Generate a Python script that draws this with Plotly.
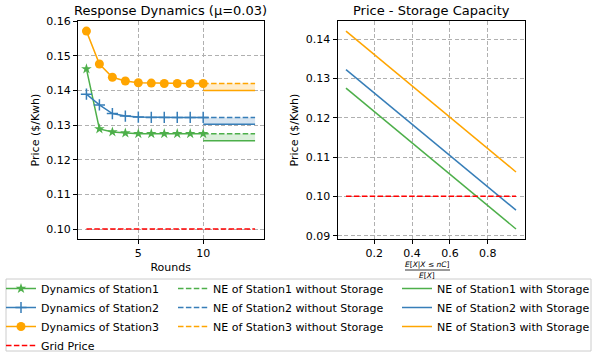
import plotly.graph_objects as go

# ---------------- data ----------------
rounds = [1, 2, 3, 4, 5, 6, 7, 8, 9, 10]
dyn_station1 = [0.1462, 0.1289, 0.1280, 0.1277, 0.1275, 0.1275, 0.1275, 0.1275, 0.1275, 0.1275]
dyn_station2 = [0.1389, 0.1358, 0.1333, 0.1326, 0.1323, 0.1322, 0.1322, 0.1322, 0.1322, 0.1322]
dyn_station3 = [0.1571, 0.1476, 0.1438, 0.1427, 0.1422, 0.1421, 0.1420, 0.1420, 0.1420, 0.1420]

ne_rounds = [10, 14]
ne_without = {"Station1": 0.1275, "Station2": 0.1322, "Station3": 0.1420}
ne_with = {"Station1": 0.1255, "Station2": 0.1302, "Station3": 0.1400}

grid_rounds = [1, 14]
grid_price = 0.10

capacity_ratio = [0.05, 0.95]
price_cap_station1 = [0.1275, 0.0917]
price_cap_station2 = [0.1322, 0.0965]
price_cap_station3 = [0.1420, 0.1062]

stations = ["Station1", "Station2", "Station3"]
colors = {"Station1": "#4daf4a", "Station2": "#377eb8", "Station3": "#ffa500"}
fills = {"Station1": "rgba(77,175,74,0.2)", "Station2": "rgba(55,126,184,0.2)",
         "Station3": "rgba(255,165,0,0.2)"}
dyn_values = {"Station1": dyn_station1, "Station2": dyn_station2, "Station3": dyn_station3}
cap_values = {"Station1": price_cap_station1, "Station2": price_cap_station2,
              "Station3": price_cap_station3}
markers = {"Station1": dict(symbol="star", size=8),
           "Station2": dict(symbol="cross-thin", size=8),
           "Station3": dict(symbol="circle", size=9)}

W, H = 592, 354
FONT = "DejaVu Sans"
DASH = "5.5px,2.4px"

fig = go.Figure()

# fills between NE without/with storage (left plot)
for s in stations:
    fig.add_trace(go.Scatter(x=ne_rounds, y=[ne_with[s]] * 2, mode="lines",
                             line=dict(width=0), showlegend=False, hoverinfo="skip",
                             xaxis="x", yaxis="y"))
    fig.add_trace(go.Scatter(x=ne_rounds, y=[ne_without[s]] * 2, mode="lines",
                             line=dict(width=0), fill="tonexty", fillcolor=fills[s],
                             showlegend=False, hoverinfo="skip", xaxis="x", yaxis="y"))

# dynamics
for s in stations:
    m = dict(markers[s], color=colors[s])
    if s == "Station2":
        m["line"] = dict(width=1.5, color=colors[s])
    fig.add_trace(go.Scatter(x=rounds, y=dyn_values[s], mode="lines+markers",
                             name=f"Dynamics of {s}", line=dict(color=colors[s], width=1.5),
                             marker=m, legend="legend", xaxis="x", yaxis="y"))

fig.add_trace(go.Scatter(x=grid_rounds, y=[grid_price] * 2, mode="lines", name="Grid Price",
                         line=dict(color="red", width=1.5, dash=DASH), legend="legend",
                         xaxis="x", yaxis="y"))

for s in stations:
    fig.add_trace(go.Scatter(x=ne_rounds, y=[ne_without[s]] * 2, mode="lines",
                             name=f"NE of {s} without Storage",
                             line=dict(color=colors[s], width=1.5, dash=DASH),
                             legend="legend2", xaxis="x", yaxis="y"))
for s in stations:
    fig.add_trace(go.Scatter(x=ne_rounds, y=[ne_with[s]] * 2, mode="lines",
                             name=f"NE of {s} with Storage",
                             line=dict(color=colors[s], width=1.5),
                             legend="legend3", xaxis="x", yaxis="y"))

# right plot
for s in stations:
    fig.add_trace(go.Scatter(x=capacity_ratio, y=cap_values[s], mode="lines",
                             line=dict(color=colors[s], width=1.5), showlegend=False,
                             xaxis="x2", yaxis="y2"))
fig.add_trace(go.Scatter(x=capacity_ratio, y=[grid_price] * 2, mode="lines",
                         line=dict(color="red", width=1.5, dash=DASH), showlegend=False,
                         xaxis="x2", yaxis="y2"))

ax_common = dict(showline=True, mirror=True, linecolor="black", linewidth=1,
                 ticks="outside", ticklen=4, tickcolor="black", tickwidth=1,
                 showgrid=True, gridcolor="#b0b0b0", gridwidth=0.8, griddash="4px,2.5px",
                 zeroline=False, tickfont=dict(family=FONT, size=11, color="black"))

ytop = 1 - 21 / H
ybot = 1 - 239 / H

legend_common = dict(xanchor="left", yanchor="top", y=1 - 274 / H,
                     bgcolor="rgba(0,0,0,0)", borderwidth=0, tracegroupgap=0,
                     traceorder="normal",
                     font=dict(family=FONT, size=11, color="black"))

fig.update_layout(
    width=W, height=H, margin=dict(l=0, r=0, t=0, b=0, autoexpand=False),
    plot_bgcolor="white", paper_bgcolor="white",
    font=dict(family=FONT, size=11, color="black"),
    xaxis=dict(ax_common, domain=[78 / W, 263.5 / W], range=[0.35, 14.65], tickvals=[5, 10],
               title=dict(text="Rounds", font=dict(size=11), standoff=4), anchor="y"),
    yaxis=dict(ax_common, domain=[ybot, ytop], range=[0.09712, 0.16002],
               tickvals=[0.10, 0.11, 0.12, 0.13, 0.14, 0.15, 0.16], tickformat=".2f",
               title=dict(text="Price ($/Kwh)", font=dict(size=11), standoff=4), anchor="x"),
    xaxis2=dict(ax_common, domain=[337.5 / W, 524.5 / W], range=[0.005, 0.995],
                tickvals=[0.2, 0.4, 0.6, 0.8], tickformat=".1f", anchor="y2"),
    yaxis2=dict(ax_common, domain=[ybot, ytop], range=[0.08916, 0.14458],
                tickvals=[0.09, 0.10, 0.11, 0.12, 0.13, 0.14], tickformat=".2f",
                title=dict(text="Price ($/Kwh)", font=dict(size=11), standoff=4), anchor="x2"),
    legend=dict(legend_common, x=1 / W),
    legend2=dict(legend_common, x=173 / W),
    legend3=dict(legend_common, x=397 / W),
    showlegend=True,
)

# legend frame
fig.add_shape(type="rect", xref="paper", yref="paper", x0=6 / W, x1=591 / W,
              y0=1 - 351 / H, y1=1 - 279 / H, line=dict(color="#cccccc", width=1),
              fillcolor="rgba(0,0,0,0)", layer="below")

# titles
fig.add_annotation(text="Response Dynamics (μ=0.03)", xref="paper", yref="paper",
                   x=(78 + 263.5) / 2 / W, y=1 - 11 / H, xanchor="center", yanchor="middle",
                   showarrow=False, font=dict(family=FONT, size=13, color="black"))
fig.add_annotation(text="Price - Storage Capacity", xref="paper", yref="paper",
                   x=(337.5 + 524.5) / 2 / W, y=1 - 11 / H, xanchor="center", yanchor="middle",
                   showarrow=False, font=dict(family=FONT, size=13, color="black"))

# fraction x-label for right plot
xc = 427 / W
fig.add_annotation(text="<i>E</i>[<i>X</i>|<i>X</i> ≤ <i>nC</i>]", xref="paper", yref="paper",
                   x=xc, y=1 - 264.5 / H, xanchor="center", yanchor="middle", showarrow=False,
                   font=dict(family=FONT, size=7.5, color="black"), borderpad=0)
fig.add_shape(type="line", xref="paper", yref="paper", x0=405 / W, x1=450 / W,
              y0=1 - 270 / H, y1=1 - 270 / H, line=dict(color="black", width=0.8))
fig.add_annotation(text="<i>E</i>[<i>X</i>]", xref="paper", yref="paper",
                   x=xc, y=1 - 275.5 / H, xanchor="center", yanchor="middle", showarrow=False,
                   font=dict(family=FONT, size=7.5, color="black"), borderpad=0)

fig.write_html("out.html", config={"displayModeBar": False},
               post_script="document.body.style.margin='0px';")
